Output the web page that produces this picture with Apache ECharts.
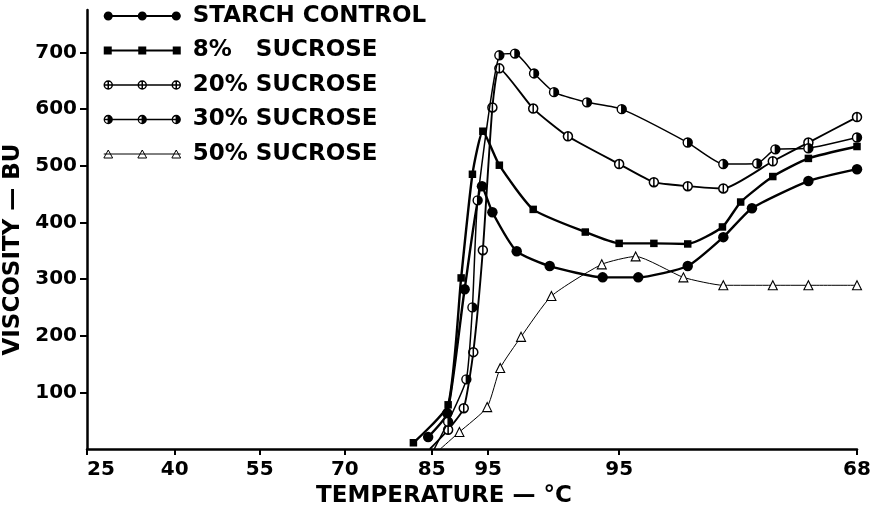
<!DOCTYPE html>
<html><head><meta charset="utf-8">
<script src="https://cdn.jsdelivr.net/npm/echarts@6/dist/echarts.min.js"></script>
<style>html,body{margin:0;padding:0;background:#fff}#c{width:884px;height:509px}</style>
</head><body><div id="c"></div>
<script>
// x = minutes of the amylograph run (heating 25→95 °C, hold at 95 °C, cooling to 68 °C)
const tickMinutes = [0, 10.1, 19.9, 29.7, 39.7, 46.2, 61.3, 88.7];
const tickLabels  = ['25', '40', '55', '70', '85', '95', '95', '68'];
const yTicks = [100, 200, 300, 400, 500, 600, 700];
const seriesNames = ['STARCH CONTROL', '8%   SUCROSE', '20% SUCROSE', '30% SUCROSE', '50% SUCROSE'];

const starchX = [39.3, 41.5, 43.5, 45.5, 46.7, 49.5, 53.3, 59.4, 63.5, 69.2, 73.3, 76.6, 83.1, 88.7];
const starchY = [21, 63, 282, 464, 418, 349, 323, 303, 303, 323, 374, 425, 473, 494];

const suc8X = [37.6, 41.6, 43.1, 44.4, 45.6, 47.5, 51.4, 57.4, 61.3, 65.3, 69.2, 73.2, 75.3, 79.0, 83.1, 88.7];
const suc8Y = [11, 78, 302, 485, 561, 501, 423, 383, 363, 363, 362, 392, 436, 481, 513, 534];

const suc20X = [39.5, 41.6, 43.4, 44.5, 45.6, 46.7, 47.5, 51.4, 55.4, 61.3, 65.3, 69.2, 73.3, 79.0, 83.1, 88.7];
const suc20Y = [0, 34, 72, 171, 351, 603, 672, 601, 552, 503, 471, 464, 460, 508, 541, 586];

const suc30X = [40.0, 41.6, 43.7, 44.4, 45.0, 47.5, 49.3, 51.5, 53.8, 57.6, 61.6, 69.2, 73.3, 77.2, 79.3, 83.1, 88.7];
const suc30Y = [0, 48, 123, 250, 439, 695, 698, 663, 630, 612, 600, 541, 503, 504, 529, 531, 550];

const suc50X = [40.7, 42.9, 46.1, 47.6, 50.0, 53.5, 59.3, 63.2, 68.7, 73.3, 79.0, 83.1, 88.7];
const suc50Y = [0, 30, 74, 143, 198, 270, 326, 340, 303, 289, 289, 289, 289];

function pts(xs, ys) {
  return xs.map((x, i) => ys[i] === 0 ? { value: [x, 0], symbol: 'none' } : [x, ys[i]]);
}

// ---- marker shapes (all drawn clockwise) ----
function circ(cx, cy, r) {
  return `M${cx - r},${cy} A${r},${r} 0 1,1 ${cx + r},${cy} A${r},${r} 0 1,1 ${cx - r},${cy} Z `;
}
function phi(cx, cy, r) { return circ(cx, cy, r) + `M${cx},${cy - r} L${cx},${cy + r} `; }
function half(cx, cy, r) {
  let s = circ(cx, cy, r) + `M${cx},${cy - r} L${cx},${cy + r} `;
  [0.3, 0.58, 0.8].forEach(f => {
    const dx = f * r, dy = Math.sqrt(r * r - dx * dx);
    s += `M${cx + dx},${cy - dy} L${cx + dx},${cy + dy} `;
  });
  return s;
}
function tri(cx, cy, h) { return `M${cx},${cy - h / 2} L${cx + h * 0.55},${cy + h / 2} L${cx - h * 0.55},${cy + h / 2} Z `; }
function sq(cx, cy, a) { return `M${cx - a / 2},${cy - a / 2} L${cx + a / 2},${cy - a / 2} L${cx + a / 2},${cy + a / 2} L${cx - a / 2},${cy + a / 2} Z `; }

const W = 77, H = 10;
const lineRect = (t) => `M0,${5 - t / 2} L${W},${5 - t / 2} L${W},${5 + t / 2} L0,${5 + t / 2} Z `;
const lineStroke = `M0,5 L${W},5 `;
const cxs = [4.5, 38.5, 72.5];
const legendIcons = [
  'path://' + lineRect(2) + cxs.map(c => circ(c, 5, 4.5)).join(''),
  'path://' + lineRect(2) + [4, 38.5, 73].map(c => sq(c, 5, 8)).join(''),
  'path://' + lineStroke + cxs.map(c => phi(c, 5, 4)).join(''),
  'path://' + lineStroke + cxs.map(c => half(c, 5, 4)).join(''),
  'path://' + lineStroke + cxs.map(c => tri(c, 5, 8)).join('')
];

const symPhi = 'path://' + phi(0, 0, 5);
const symHalf = 'path://' + half(0, 0, 5);

const seriesDefs = [
  { x: starchX, y: starchY, symbol: 'circle', size: 10.5, color: '#000', bw: 0, lw: 2.4 },
  { x: suc8X, y: suc8Y, symbol: 'rect', size: 7.5, color: '#000', bw: 0, lw: 2.4 },
  { x: suc20X, y: suc20Y, symbol: symPhi, size: 9, color: '#fff', bw: 1.5, lw: 1.9 },
  { x: suc30X, y: suc30Y, symbol: symHalf, size: 9, color: '#fff', bw: 1.4, lw: 1.5 },
  { x: suc50X, y: suc50Y, symbol: 'triangle', size: 9, color: '#fff', bw: 1.1, lw: 1.0 }
];

const legendStyles = [
  { color: '#000', borderColor: '#000', borderWidth: 0 },
  { color: '#000', borderColor: '#000', borderWidth: 0 },
  { color: '#fff', borderColor: '#000', borderWidth: 1.5 },
  { color: '#fff', borderColor: '#000', borderWidth: 1.3 },
  { color: '#fff', borderColor: '#000', borderWidth: 1.0 }
];

const FONT = 'DejaVu Sans';
const chart = echarts.init(document.getElementById('c'), null, { renderer: 'canvas' });
chart.setOption({
  backgroundColor: '#fff',
  animation: false,
  grid: { left: 87, right: 27, top: 10, bottom: 60, containLabel: false, outerBoundsMode: 'none' },
  legend: {
    orient: 'vertical', left: 103, top: 4, padding: 0,
    itemWidth: W, itemHeight: H, itemGap: 10.5,
    selectedMode: false,
    data: seriesNames.map((n, i) => ({ name: n, icon: legendIcons[i], itemStyle: legendStyles[i] })),
    textStyle: { fontFamily: FONT, fontWeight: 'bold', fontSize: 23, color: '#000', lineHeight: 24, padding: [0, 0, 0, 7] }
  },
  xAxis: {
    type: 'value', min: 0, max: 88.7,
    name: 'TEMPERATURE — °C', nameLocation: 'middle', nameGap: 33,
    nameTextStyle: { fontFamily: FONT, fontWeight: 'bold', fontSize: 23, color: '#000', padding: [0, 56, 0, 0] },
    axisLine: { lineStyle: { color: '#000', width: 2.5 } },
    axisTick: { customValues: tickMinutes, length: 6, lineStyle: { color: '#000', width: 2 } },
    axisLabel: {
      customValues: tickMinutes, margin: 11, alignMinLabel: 'left',
      fontFamily: FONT, fontWeight: 'bold', fontSize: 20, color: '#000',
      formatter: (v) => {
        let best = 0;
        tickMinutes.forEach((t, i) => { if (Math.abs(t - v) < Math.abs(tickMinutes[best] - v)) best = i; });
        return tickLabels[best];
      }
    },
    splitLine: { show: false }
  },
  yAxis: {
    type: 'value', min: 0, max: 775, interval: 100,
    name: 'VISCOSITY — BU', nameLocation: 'middle', nameGap: 56,
    nameTextStyle: { fontFamily: FONT, fontWeight: 'bold', fontSize: 23, color: '#000', padding: [0, 40, 0, 0] },
    axisLine: { show: true, lineStyle: { color: '#000', width: 2.5 } },
    axisTick: { show: true, customValues: yTicks, length: 7, lineStyle: { color: '#000', width: 2 } },
    axisLabel: { customValues: yTicks, margin: 10, fontFamily: FONT, fontWeight: 'bold', fontSize: 20, color: '#000' },
    splitLine: { show: false }
  },
  series: seriesDefs.map((d, i) => ({
    type: 'line', name: seriesNames[i],
    data: pts(d.x, d.y),
    smooth: 0.18,
    symbol: d.symbol, symbolSize: d.size,
    lineStyle: { color: '#000', width: d.lw },
    itemStyle: { color: d.color, borderColor: '#000', borderWidth: d.bw },
    z: 2 + i
  }))
});
</script></body></html>
